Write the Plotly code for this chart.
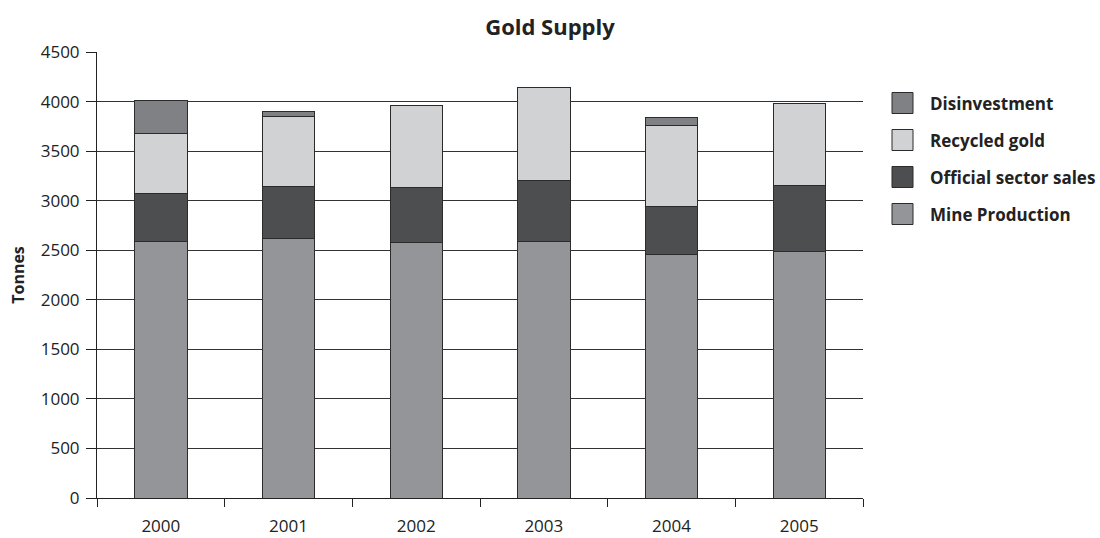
import plotly.graph_objects as go

# Gold supply by source, tonnes per year
years = ["2000", "2001", "2002", "2003", "2004", "2005"]
mine_production = [2590, 2620, 2580, 2585, 2460, 2490]
official_sector_sales = [480, 525, 550, 620, 480, 660]
recycled_gold = [605, 705, 835, 935, 820, 835]
disinvestment = [335, 50, 0, 0, 80, 0]

series = [
    ("Mine Production", mine_production, "#939598"),
    ("Official sector sales", official_sector_sales, "#4d4e50"),
    ("Recycled gold", recycled_gold, "#d1d2d4"),
    ("Disinvestment", disinvestment, "#808184"),
]

FONT = "Open Sans"
TXT = "#222222"
W, H = 1100, 538
L, R, T, B = 97, 237, 52, 40

fig = go.Figure()
for name, vals, color in series:
    fig.add_trace(go.Bar(
        x=years, y=vals, name=name,
        marker=dict(color=color, line=dict(color="#2b2b2b", width=1)),
        showlegend=False,
    ))

# Legend drawn as swatches + bold labels, top entry = last stacked series
pw, ph = W - L - R, H - T - B
def px(x):
    return (x - L) / pw
def py(y):
    return (H - B - y) / ph

shapes, annotations = [], []
row_y = [103, 140, 177, 214]
for (name, _, color), yc in zip(reversed(series), row_y):
    shapes.append(dict(
        type="rect", xref="paper", yref="paper",
        x0=px(892), x1=px(913), y0=py(yc + 10.5), y1=py(yc - 10.5),
        fillcolor=color, line=dict(color="#2b2b2b", width=1),
    ))
    annotations.append(dict(
        xref="paper", yref="paper", x=px(928), y=py(yc),
        xanchor="left", yanchor="middle", showarrow=False,
        text=f"<b>{name}</b>", font=dict(family=FONT, size=17, color=TXT),
    ))

fig.update_layout(
    barmode="stack",
    bargap=0.59,
    width=W, height=H,
    margin=dict(l=L, r=R, t=T, b=B, pad=0, autoexpand=False),
    paper_bgcolor="white", plot_bgcolor="white",
    font=dict(family=FONT, size=17, color=TXT),
    title=dict(text="<b>Gold Supply</b>", xref="container", x=0.5, xanchor="center",
               yref="container", y=1 - 27 / H, yanchor="middle",
               font=dict(family=FONT, size=22, color=TXT)),
    shapes=shapes,
    annotations=annotations,
    xaxis=dict(
        type="category", tickson="boundaries", automargin=False,
        ticks="outside", ticklen=8, tickcolor="#222", tickwidth=1,
        showline=True, linecolor="#222", linewidth=1,
        showgrid=False, tickfont=dict(size=17), ticklabelstandoff=13,
    ),
    yaxis=dict(
        range=[0, 4500], dtick=500, tick0=0,
        ticks="outside", ticklen=10, tickcolor="#222", tickwidth=1,
        showline=True, linecolor="#222", linewidth=1,
        showgrid=True, gridcolor="#333", gridwidth=1,
        zeroline=False, tickfont=dict(size=17), ticklabelstandoff=3,
        title=dict(text="<b>Tonnes</b>", font=dict(family=FONT, size=16, color=TXT), standoff=12),
    ),
)

fig.write_html("out.html")
